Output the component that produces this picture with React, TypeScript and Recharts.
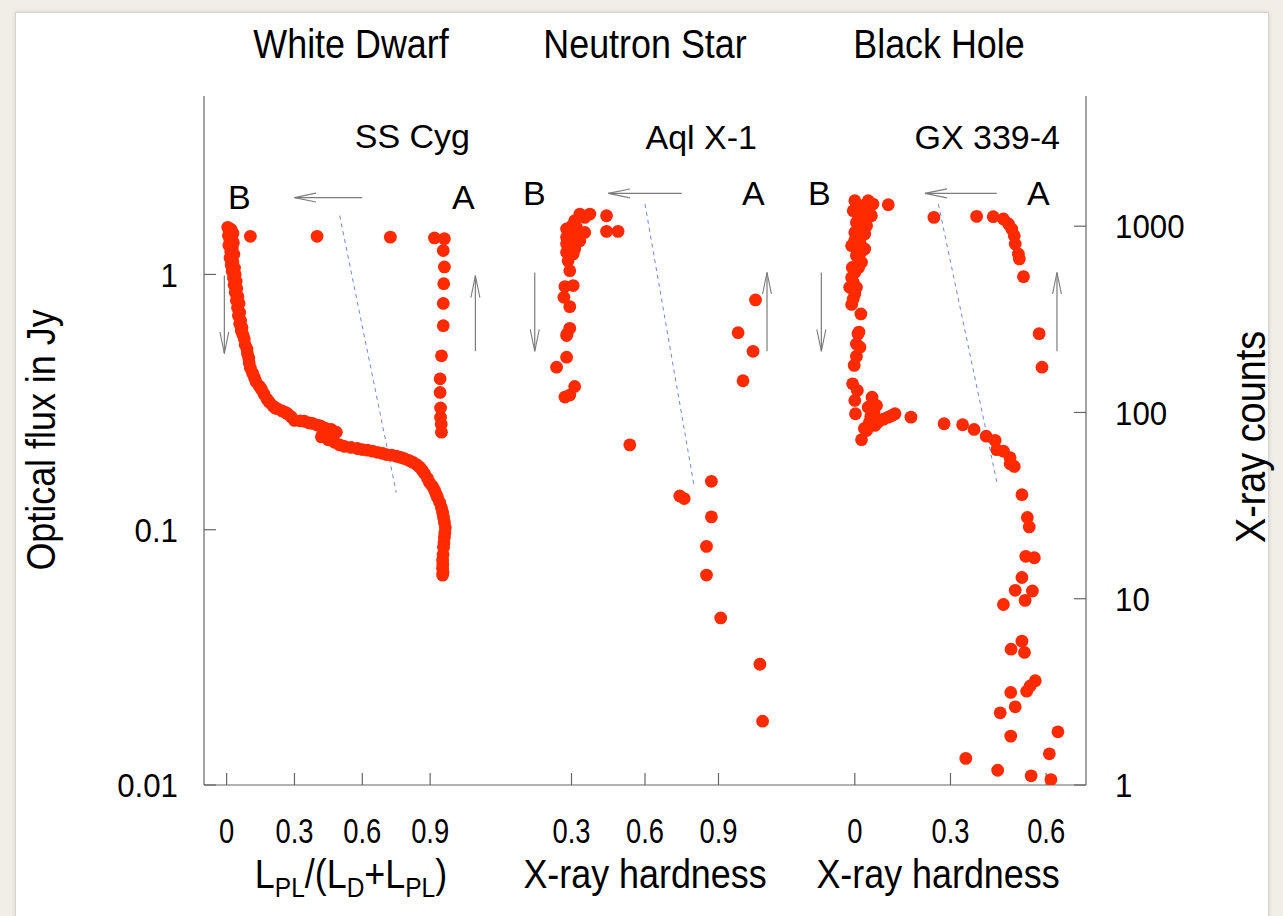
import { ScatterChart, Scatter, XAxis, YAxis, ReferenceLine } from "recharts";

const RED = "#ff2a00";
const FRAME = "#666666";
const ARROW = "#7c7c7c";
const DASH = "#6f86e6";
const FONT = "'Liberation Sans', Arial, Helvetica, sans-serif";

// axis ticks
const fluxTicks = [0.01, 0.1, 1];
const countTicks = [1, 10, 100, 1000];
const fluxMinor = [0.02, 0.03, 0.04, 0.05, 0.06, 0.07, 0.08, 0.09, 0.2, 0.3, 0.4, 0.5, 0.6, 0.7, 0.8, 0.9, 2, 3, 4, 5];
const countMinor = [2, 3, 4, 5, 6, 7, 8, 9, 20, 30, 40, 50, 60, 70, 80, 90, 200, 300, 400, 500, 600, 700, 800, 900, 2000, 3000, 4000, 5000];
const wdTicks = [0, 0.3, 0.6, 0.9];
const nsTicks = [0.3, 0.6, 0.9];
const bhTicks = [0, 0.3, 0.6];

const fluxDomain = [0.01, 5];
const countDomain = [1, 5000];
const wdDomain = [-0.1, 1.2];
const nsDomain = [0, 1.2];
const bhDomain = [-0.197, 0.725];

// SS Cyg: [L_PL/(L_D+L_PL), optical flux Jy]
const ssCyg: [number, number][] = [
  [0.005, 1.53], [0.02, 1.5], [0.012, 1.47], [0.028, 1.45], [0.008, 1.42], [0.022, 1.4], [0.015, 1.36],
  [0.03, 1.33], [0.01, 1.3], [0.025, 1.27], [0.018, 1.23], [0.032, 1.2], [0.015, 1.16], [0.028, 1.12],
  [0.02, 1.09], [0.035, 1.06], [0.025, 1.03], [0.038, 1.0], [0.03, 0.97], [0.042, 0.94], [0.033, 0.91],
  [0.045, 0.88], [0.038, 0.85], [0.05, 0.82], [0.043, 0.79], [0.055, 0.77], [0.048, 0.74], [0.058, 0.71],
  [0.052, 0.69], [0.062, 0.66], [0.058, 0.64], [0.068, 0.62], [0.065, 0.6], [0.072, 0.58], [0.078, 0.56],
  [0.082, 0.53], [0.09, 0.51], [0.092, 0.49], [0.098, 0.47], [0.1, 0.45], [0.105, 0.43], [0.115, 0.41],
  [0.123, 0.395], [0.13, 0.38], [0.145, 0.365], [0.154, 0.355], [0.165, 0.34], [0.178, 0.325], [0.189, 0.316],
  [0.205, 0.305], [0.215, 0.3], [0.224, 0.298], [0.245, 0.292], [0.26, 0.288], [0.269, 0.285], [0.285, 0.277],
  [0.3, 0.268], [0.325, 0.267], [0.344, 0.266], [0.365, 0.262], [0.379, 0.261], [0.4, 0.257], [0.415, 0.255],
  [0.423, 0.252], [0.435, 0.25], [0.445, 0.247], [0.463, 0.247], [0.485, 0.241], [0.419, 0.231], [0.43, 0.238],
  [0.45, 0.225], [0.477, 0.22], [0.5, 0.215], [0.521, 0.212], [0.55, 0.21], [0.578, 0.208], [0.6, 0.206],
  [0.623, 0.205], [0.645, 0.203], [0.667, 0.201], [0.69, 0.199], [0.707, 0.197], [0.73, 0.196], [0.751, 0.194],
  [0.77, 0.192], [0.786, 0.19], [0.805, 0.187], [0.822, 0.184], [0.84, 0.18], [0.853, 0.176], [0.865, 0.171],
  [0.875, 0.166], [0.888, 0.159], [0.897, 0.153], [0.91, 0.148], [0.919, 0.143], [0.926, 0.138], [0.932, 0.134],
  [0.942, 0.128], [0.95, 0.122], [0.955, 0.117], [0.959, 0.112], [0.963, 0.107], [0.967, 0.102], [0.965, 0.097],
  [0.963, 0.0935], [0.961, 0.089], [0.959, 0.0854], [0.957, 0.08], [0.955, 0.076], [0.956, 0.073], [0.955, 0.0707],
  [0.957, 0.068], [0.955, 0.0664],
  [0.105, 1.41], [0.4, 1.41], [0.724, 1.4], [0.919, 1.39], [0.963, 1.38], [0.958, 1.24], [0.963, 1.07],
  [0.96, 0.92], [0.958, 0.77], [0.958, 0.63], [0.95, 0.48], [0.944, 0.39], [0.944, 0.345], [0.946, 0.3],
  [0.946, 0.276], [0.949, 0.259], [0.95, 0.241],
];

// Aql X-1: [X-ray hardness, X-ray counts]
const aqlX1: [number, number][] = [
  [0.334, 1162], [0.375, 1162], [0.354, 1115], [0.313, 1070], [0.443, 1138], [0.443, 938], [0.49, 938],
  [0.28, 966], [0.32, 986], [0.354, 926], [0.3, 1000], [0.31, 900], [0.28, 871], [0.334, 836], [0.3, 840],
  [0.28, 803], [0.29, 780], [0.313, 755], [0.28, 724], [0.307, 710], [0.286, 653], [0.293, 577], [0.273, 474],
  [0.307, 480], [0.269, 415], [0.293, 370], [0.293, 283], [0.282, 264], [0.28, 259], [0.28, 198], [0.239, 175],
  [0.313, 138], [0.293, 124], [0.273, 121], [0.538, 67], [0.742, 35.6], [0.76, 34.5], [0.871, 42.7],
  [0.871, 27.5], [0.851, 19.1], [0.851, 13.4], [0.909, 7.89], [1.069, 4.45], [1.08, 2.2], [1.051, 402],
  [0.98, 268], [1.041, 213], [1.0, 148],
];

// GX 339-4: [X-ray hardness, X-ray counts]
const gx339: [number, number][] = [
  [0, 1370], [0.042, 1370], [0.026, 1288], [0.057, 1315], [0.105, 1304], [-0.005, 1211], [0.052, 1138],
  [0.005, 1048], [0.037, 1006], [0, 926], [0.031, 908], [0.016, 819], [-0.01, 786], [0.031, 755], [0.005, 695],
  [0.021, 640], [0, 565], [-0.005, 500], [-0.016, 470], [0, 433], [-0.005, 407], [0.019, 338], [0.013, 270],
  [0.015, 1250], [0.03, 1200], [0.01, 1150], [0.045, 1250], [0.02, 1100], [0.01, 980], [0.025, 960],
  [0.015, 870], [0, 840], [0.02, 730], [0.01, 760], [-0.008, 600], [0.012, 600], [-0.01, 530], [0.005, 470],
  [-0.01, 380], [0.01, 264], [0.005, 233], [0.016, 224], [0.005, 200], [-0.002, 179], [-0.007, 142.5],
  [0.008, 131.2], [0, 116], [0.002, 98.4], [0.054, 120.8], [0.068, 109], [0.042, 106.7], [0.126, 98.4],
  [0.105, 94.4], [0.079, 90.6], [0.063, 85.2], [0.037, 80], [0.021, 71.4], [0.176, 94.4], [0.05, 95],
  [0.06, 100], [0.09, 92], [0.045, 88], [0.03, 82], [0.07, 88], [0.115, 96],
  [0.248, 1115], [0.382, 1129], [0.434, 1125], [0.466, 1093], [0.482, 1028], [0.492, 966], [0.5, 889],
  [0.503, 803], [0.513, 710], [0.516, 667], [0.529, 536], [0.578, 265], [0.587, 175],
  [0.28, 87], [0.338, 85.9], [0.374, 81.1], [0.412, 74.6], [0.44, 70.8], [0.445, 63.1], [0.466, 62],
  [0.487, 57.2], [0.487, 53.1], [0.5, 51.3], [0.524, 36.2], [0.541, 27.3], [0.547, 24.3], [0.536, 16.9],
  [0.563, 16.6], [0.524, 13], [0.503, 11.1], [0.557, 11], [0.534, 9.8], [0.466, 9.31], [0.524, 5.92],
  [0.49, 5.36], [0.532, 5.15], [0.566, 3.63], [0.55, 3.4], [0.539, 3.19], [0.489, 3.14], [0.503, 2.63],
  [0.456, 2.44], [0.637, 1.93], [0.489, 1.83], [0.61, 1.47], [0.348, 1.39], [0.448, 1.2], [0.553, 1.12],
  [0.615, 1.07],
];

// annotation segments, in data units: [x1, y1, x2, y2]
const wdArrows = [[0.6, 2.0, 0.3, 2.0], [-0.01, 0.99, -0.01, 0.49], [1.1, 0.5, 1.1, 0.99]];
const wdDash = [0.5, 1.7, 0.75, 0.14];
const nsArrows = [[0.75, 1500, 0.45, 1500], [0.15, 565, 0.15, 213], [1.098, 213, 1.098, 565]];
const nsDash = [0.6, 1315, 0.8, 40.6];
const bhArrows = [[0.445, 1500, 0.22, 1500], [-0.105, 565, -0.105, 213], [0.634, 213, 0.634, 565]];
const bhDash = [0.262, 1315, 0.447, 41];

const Dot = (p: any) => <circle cx={p.cx} cy={p.cy} r={6.4} fill={RED} />;

const BottomTick = (p: any) => (
  <text
    transform={`translate(${p.x},${p.y}) scale(0.76,1)`}
    textAnchor="middle"
    dy="0.71em"
    fontSize={36}
    fontFamily={FONT}
    fill="#000"
  >
    {String(p.payload.value)}
  </text>
);

const SideTick = (p: any) => (
  <text
    transform={`translate(${p.x},${p.y}) scale(0.92,1)`}
    textAnchor={p.textAnchor}
    dy="0.355em"
    fontSize={34}
    fontFamily={FONT}
    fill="#000"
  >
    {String(p.payload.value)}
  </text>
);

const blank = () => "";

function Panel({ x0, width, leftLabels, rightLabels, xDomain, xTicks, points, yKind, arrows, dash }: any) {
  const axisStroke = { stroke: FRAME, strokeWidth: 1.2 };
  return (
    <div style={{ position: "absolute", left: x0, top: 0 }}>
      <ScatterChart width={width} height={916} margin={{ top: 96, right: 0, bottom: 0, left: 0 }}>
        <XAxis xAxisId="b" type="number" dataKey="x" orientation="bottom" height={131} domain={xDomain}
          ticks={xTicks} allowDataOverflow tickSize={-12} tickMargin={44} tick={<BottomTick />}
          axisLine={axisStroke} tickLine={axisStroke} />
        <XAxis xAxisId="t" type="number" dataKey="x" orientation="top" height={0} domain={xDomain}
          ticks={xTicks} allowDataOverflow tickSize={-10} tickFormatter={blank}
          axisLine={axisStroke} tickLine={axisStroke} />
        {leftLabels ? (
          <YAxis yAxisId="flux" type="number" dataKey="y" scale="log" domain={fluxDomain} ticks={fluxTicks}
            allowDataOverflow width={204} tickSize={-12} tickMargin={38}
            tick={<SideTick />} axisLine={axisStroke} tickLine={axisStroke} />
        ) : (
          <YAxis yAxisId="flux" type="number" dataKey="y" scale="log" domain={fluxDomain} ticks={fluxTicks}
            allowDataOverflow mirror width={0} tickSize={12} tickFormatter={blank}
            axisLine={axisStroke} tickLine={axisStroke} />
        )}
        <YAxis yAxisId="fluxMinor" type="number" dataKey="y" scale="log" domain={fluxDomain} ticks={fluxMinor}
          allowDataOverflow mirror width={0} tickSize={6} tickFormatter={blank} axisLine={false}
          tickLine={axisStroke} />
        {rightLabels ? (
          <YAxis yAxisId="count" orientation="right" type="number" dataKey="y" scale="log" domain={countDomain}
            ticks={countTicks} allowDataOverflow width={197} tickSize={-12} tickMargin={41}
            tick={<SideTick />} axisLine={axisStroke} tickLine={axisStroke} />
        ) : (
          <YAxis yAxisId="count" orientation="right" type="number" dataKey="y" scale="log" domain={countDomain}
            ticks={countTicks} allowDataOverflow mirror width={0} tickSize={12} tickFormatter={blank}
            axisLine={axisStroke} tickLine={axisStroke} />
        )}
        <YAxis yAxisId="countMinor" orientation="right" type="number" dataKey="y" scale="log" domain={countDomain}
          ticks={countMinor} allowDataOverflow mirror width={0} tickSize={6} tickFormatter={blank}
          axisLine={false} tickLine={axisStroke} />

        <ReferenceLine xAxisId="b" yAxisId={yKind} stroke={DASH} strokeWidth={1} strokeDasharray="4 4"
          segment={[{ x: dash[0], y: dash[1] }, { x: dash[2], y: dash[3] }]} />
        {arrows.map((a: number[], i: number) => (
          <ReferenceLine key={i} xAxisId="b" yAxisId={yKind} stroke={ARROW} strokeWidth={1.2}
            markerEnd="url(#openArrow)" segment={[{ x: a[0], y: a[1] }, { x: a[2], y: a[3] }]} />
        ))}
        <Scatter xAxisId="b" yAxisId={yKind} data={points.map(([x, y]: number[]) => ({ x, y }))}
          shape={Dot} isAnimationActive={false} />
      </ScatterChart>
    </div>
  );
}

const T = ({ x, y, size = 34, sx = 1, rot = 0, anchor = "start", children }: any) => (
  <text transform={`translate(${x},${y}) rotate(${rot}) scale(${sx},1)`} textAnchor={anchor}
    fontSize={size} fontFamily={FONT} fill="#000">
    {children}
  </text>
);

export default function App() {
  return (
    <div style={{ position: "absolute", left: 0, top: 0, width: 1283, height: 916, background: "#f1ede7", overflow: "hidden" }}>
      <div style={{ position: "absolute", left: 15, top: 12, width: 1252, height: 930, background: "#fff",
        border: "1px solid #d8d4cf", boxShadow: "0 0 4px rgba(0,0,0,0.12)" }} />
      <svg width={0} height={0} style={{ position: "absolute" }}>
        <defs>
          <marker id="openArrow" markerUnits="userSpaceOnUse" markerWidth={24} markerHeight={12}
            refX={22} refY={6} orient="auto">
            <path d="M0,1.5 L22,6 L0,10.5" fill="none" stroke={ARROW} strokeWidth={1.1} />
          </marker>
        </defs>
      </svg>
      <Panel x0={0} width={498} leftLabels xDomain={wdDomain} xTicks={wdTicks} points={ssCyg} yKind="flux"
        arrows={wdArrows} dash={wdDash} />
      <Panel x0={498} width={294} xDomain={nsDomain} xTicks={nsTicks} points={aqlX1} yKind="count"
        arrows={nsArrows} dash={nsDash} />
      <Panel x0={792} width={491} rightLabels xDomain={bhDomain} xTicks={bhTicks} points={gx339} yKind="count"
        arrows={bhArrows} dash={bhDash} />
      <svg width={1283} height={916} style={{ position: "absolute", left: 0, top: 0, pointerEvents: "none" }}>
        <T x={351} y={58} size={41} sx={0.875} anchor="middle">White Dwarf</T>
        <T x={645} y={58} size={41} sx={0.875} anchor="middle">Neutron Star</T>
        <T x={939} y={58} size={41} sx={0.875} anchor="middle">Black Hole</T>

        <T x={470} y={148} anchor="end">SS Cyg</T>
        <T x={757} y={149} anchor="end">Aql X-1</T>
        <T x={1060} y={149} anchor="end">GX 339-4</T>
        <T x={228} y={209}>B</T>
        <T x={452} y={209}>A</T>
        <T x={523} y={205}>B</T>
        <T x={742} y={205}>A</T>
        <T x={808} y={205}>B</T>
        <T x={1027} y={205}>A</T>

        <T x={55} y={440} size={41} sx={0.875} rot={-90} anchor="middle">Optical flux in Jy</T>
        <T x={1265} y={437} size={42} sx={0.9} rot={-90} anchor="middle">X-ray counts</T>

        <T x={351} y={888} size={41} sx={0.875} anchor="middle">
          L<tspan fontSize={28} dy={9}>PL</tspan>
          <tspan dy={-9}>/(L</tspan>
          <tspan fontSize={28} dy={9}>D</tspan>
          <tspan dy={-9}>+L</tspan>
          <tspan fontSize={28} dy={9}>PL</tspan>
          <tspan dy={-9}>)</tspan>
        </T>
        <T x={645} y={888} size={41} sx={0.875} anchor="middle">X-ray hardness</T>
        <T x={938} y={888} size={41} sx={0.875} anchor="middle">X-ray hardness</T>
      </svg>
    </div>
  );
}
